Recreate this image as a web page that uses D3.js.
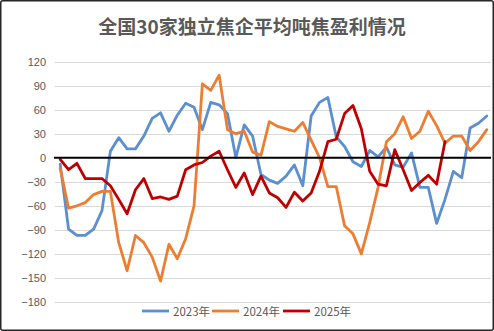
<!DOCTYPE html>
<html>
<head>
<meta charset="utf-8">
<script src="https://cdn.jsdelivr.net/npm/d3@7/dist/d3.min.js"></script>
<style>
  html, body { margin: 0; padding: 0; background: #fff; }
  svg { display: block; }
</style>
</head>
<body>
<svg id="chart" width="494" height="331"></svg>
<script>
// Average profit per tonne of coke, 30 independent coking plants (weekly, yuan/t)
const titleText = "全国30家独立焦企平均吨焦盈利情况";
const seriesNames = ["2023年", "2024年", "2025年"];
const seriesColors = ["#5b8fd0", "#ed7d31", "#c00000"];
const yTicks = [120, 90, 60, 30, 0, -30, -60, -90, -120, -150, -180];
const weeks = d3.range(1, 53);

const values2023 = [-8, -89, -97, -97, -89, -66, 8, 25, 11, 11, 27, 49, 56, 33, 53, 68, 63, 35, 69, 66,
  55, 0, 41, 27, -21, -28, -32, -23, -9, -35, 52, 69, 75, 26, 14, -5, -11, 9, 1, 13,
  -9, -12, 6, -37, -37, -82, -52, -17, -25, 37, 43, 52];
const values2024 = [-13, -63, -60, -56, -46, -42, -42, -106, -141, -97, -106, -124, -154, -108, -126, -101, -60, 92, 84, 103,
  35, 30, 33, 7, 3, 45, 39, 36, 33, 44, 22, 0, -36, -36, -85, -95, -120, -81, -37, 20,
  30, 51, 24, 33, 58, 40, 18, 27, 27, 9, 20, 35];
const values2025 = [-2, -15, -7, -26, -26, -26, -35, -52, -70, -40, -26, -51, -49, -52, -48, -15, -9, -6, 2, 8,
  -15, -37, -19, -46, -23, -44, -50, -62, -43, -54, -44, -17, 20, 23, 55, 65, 36, -17, -33, -35,
  10, -15, -41, -31, -22, -33, 20];

const series = [values2023, values2024, values2025];

const svg = d3.select("#chart");
const W = 494, H = 331;
const plot = { left: 56, right: 491, top: 61.5, bottom: 302 };

// Outer frame
svg.append("rect")
  .attr("x", 0.75).attr("y", 0.75)
  .attr("width", W - 1.5).attr("height", H - 1.5)
  .attr("rx", 2)
  .attr("fill", "#fff")
  .attr("stroke", "#262626")
  .attr("stroke-width", 1.5);

// Title
svg.append("text")
  .attr("x", 252).attr("y", 34)
  .attr("text-anchor", "middle")
  .attr("font-family", "'Noto Sans CJK SC', sans-serif")
  .attr("font-weight", "bold")
  .attr("font-size", 19)
  .attr("fill", "#595959")
  .text(titleText);

const x = d3.scalePoint()
  .domain(weeks)
  .range([plot.left, plot.right])
  .padding(0.5);

const y = d3.scaleLinear()
  .domain([-180, 120])
  .range([plot.bottom, plot.top]);

// Horizontal gridlines
svg.append("g")
  .selectAll("line")
  .data(yTicks.filter(d => d !== 0))
  .join("line")
  .attr("x1", plot.left - 1).attr("x2", plot.right)
  .attr("y1", d => Math.round(y(d)) + 0.5)
  .attr("y2", d => Math.round(y(d)) + 0.5)
  .attr("stroke", "#d9d9d9")
  .attr("stroke-width", 1);

// Y axis labels
const yAxis = d3.axisLeft(y)
  .tickValues(yTicks)
  .tickSize(0)
  .tickPadding(10);

const gy = svg.append("g")
  .attr("transform", `translate(${plot.left},0)`)
  .call(yAxis);
gy.select(".domain").remove();
gy.selectAll("text")
  .attr("font-family", "'Liberation Sans', Arial, sans-serif")
  .attr("font-size", 11)
  .attr("fill", "#595959");

// Series lines
const line = d3.line()
  .x((d, i) => x(weeks[i]))
  .y(d => y(d));

svg.append("g")
  .selectAll("path")
  .data(series)
  .join("path")
  .attr("d", d => line(d))
  .attr("fill", "none")
  .attr("stroke", (d, i) => seriesColors[i])
  .attr("stroke-width", 2.8)
  .attr("stroke-linejoin", "round")
  .attr("stroke-linecap", "round");

// Zero baseline
svg.append("line")
  .attr("x1", plot.left - 2).attr("x2", plot.right)
  .attr("y1", y(0)).attr("y2", y(0))
  .attr("stroke", "#000")
  .attr("stroke-width", 2);

// Legend
const legend = svg.append("g").attr("transform", "translate(142,311)");
const itemX = [0, 70, 141];
const items = legend.selectAll("g")
  .data(seriesNames)
  .join("g")
  .attr("transform", (d, i) => `translate(${itemX[i]},0)`);
items.append("line")
  .attr("x1", 0).attr("x2", 27)
  .attr("y1", 0).attr("y2", 0)
  .attr("stroke", (d, i) => seriesColors[i])
  .attr("stroke-width", 2.8);
items.append("text")
  .attr("x", 31).attr("y", 4.5)
  .attr("font-family", "'Noto Sans CJK SC', sans-serif")
  .attr("font-size", 11.5)
  .attr("fill", "#595959")
  .text(d => d);
</script>
</body>
</html>
